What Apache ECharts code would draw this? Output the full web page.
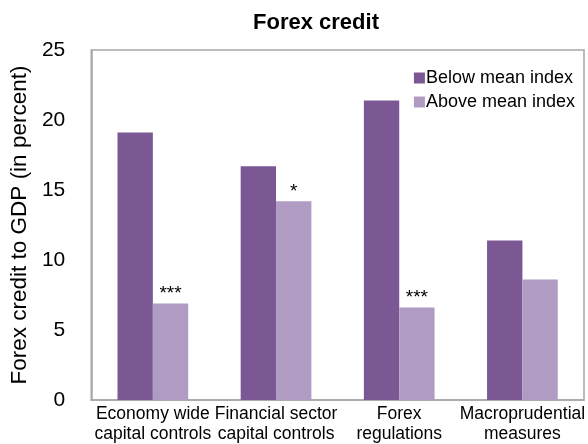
<!DOCTYPE html>
<html>
<head>
<meta charset="utf-8">
<script src="https://cdn.jsdelivr.net/npm/echarts@6/dist/echarts.min.js"></script>
<style>
  html, body { margin: 0; padding: 0; background: #fff; }
  #chart { width: 588px; height: 444px; }
</style>
</head>
<body>
<div id="chart"></div>
<script>
var categories = ['Economy wide\ncapital controls', 'Financial sector\ncapital controls', 'Forex\nregulations', 'Macroprudential\nmeasures'];
var belowMean = [19.1, 16.7, 21.4, 11.4];
var aboveMean = [6.9, 14.2, 6.6, 8.6];
var aboveMarks = ['***', '*', '***', ''];
var yTicks = [0, 5, 10, 15, 20, 25];

var font = 'Liberation Sans, Arial, sans-serif';
var myChart = echarts.init(document.getElementById('chart'));

var option = {
    animation: false,
    textStyle: { fontFamily: font },
    title: {
        text: 'Forex credit',
        left: 311,
        top: 7,
        textAlign: 'center',
        textStyle: { fontSize: 22, fontWeight: 'bold', color: '#000', fontFamily: font }
    },
    legend: {
        orient: 'vertical',
        right: 8,
        top: 64,
        itemWidth: 11,
        itemHeight: 11,
        itemGap: 6,
        icon: 'rect',
        textStyle: { fontSize: 18, color: '#000', padding: [0, 0, 0, -4] },
        data: ['Below mean index', 'Above mean index']
    },
    grid: {
        left: 89, right: 4, top: 50, bottom: 44,
        show: true, borderColor: '#a6a6a6', borderWidth: 1.5
    },
    xAxis: {
        type: 'category',
        data: categories,
        axisLine: { lineStyle: { color: '#a6a6a6', width: 1.5 } },
        axisTick: { show: false },
        axisLabel: { fontSize: 17.5, color: '#000', lineHeight: 20, margin: 4, interval: 0 }
    },
    yAxis: {
        type: 'value',
        min: yTicks[0],
        max: yTicks[yTicks.length - 1],
        interval: 5,
        name: 'Forex credit to GDP (in percent)',
        nameLocation: 'middle',
        nameGap: 57,
        nameTextStyle: { fontSize: 22.5, color: '#000' },
        axisLine: { show: true, lineStyle: { color: '#a6a6a6', width: 1.5 } },
        axisTick: { show: false },
        splitLine: { show: false },
        axisLabel: { fontSize: 21, color: '#000', margin: 26 }
    },
    series: [{
        name: 'Below mean index',
        type: 'bar',
        data: belowMean,
        barWidth: '28.7%',
        barGap: '0%',
        itemStyle: { color: '#7b5794' }
    }, {
        name: 'Above mean index',
        type: 'bar',
        data: aboveMean,
        barWidth: '28.7%',
        itemStyle: { color: '#b09cc3' },
        label: {
            show: true,
            position: 'top',
            distance: 0,
            fontSize: 19,
            color: '#000',
            formatter: function(p) { return aboveMarks[p.dataIndex]; }
        }
    }]
};

myChart.setOption(option);
</script>
</body>
</html>
